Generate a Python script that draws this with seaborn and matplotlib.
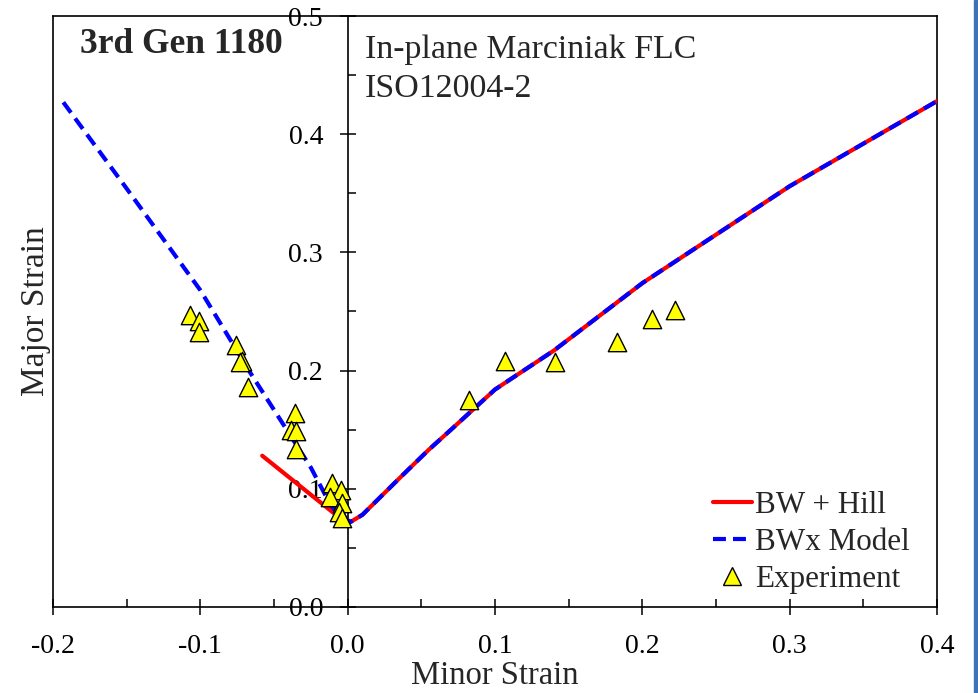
import numpy as np
import pandas as pd
import matplotlib
matplotlib.use("Agg")
import matplotlib.pyplot as plt
import seaborn as sns
from matplotlib.lines import Line2D
from matplotlib.patches import Rectangle

# BW + Hill, left branch (plane-strain side)
bw_hill_left_x = [-0.058, -0.030, -0.009, 0.002]
bw_hill_left_y = [0.128, 0.100, 0.079, 0.072]

# right branch, shared by both models
right_x = [0.002, 0.010, 0.036, 0.055, 0.071, 0.100, 0.140, 0.200, 0.300, 0.400]
right_y = [0.072, 0.078, 0.110, 0.133, 0.151, 0.184, 0.217, 0.274, 0.356, 0.428]

# BWx model, left branch
bwx_left_x = [-0.193, -0.150, -0.100, -0.066, -0.025, -0.0115, -0.004, 0.002]
bwx_left_y = [0.427, 0.354, 0.268, 0.198, 0.118, 0.086, 0.076, 0.072]

# experiment
exp_minor = [-0.107, -0.101, -0.101, -0.076, -0.0715, -0.073, -0.0676,
             -0.0358, -0.0387, -0.0348, -0.0348,
             -0.0109, -0.0043, -0.0122, -0.0036, -0.0059, -0.0036,
             0.0824, 0.1066, 0.1405, 0.1826, 0.2064, 0.222]
exp_major = [0.247, 0.242, 0.233, 0.222, 0.208, 0.207, 0.186,
             0.164, 0.150, 0.149, 0.134,
             0.1046, 0.099, 0.093, 0.0877, 0.080, 0.0756,
             0.175, 0.2084, 0.2076, 0.2239, 0.244, 0.2513]

sns.set_theme(style="white")
plt.rcParams['font.family'] = ['Liberation Serif', 'DejaVu Serif']

bw_hill = pd.DataFrame({'x': bw_hill_left_x + right_x, 'y': bw_hill_left_y + right_y})
bwx = pd.DataFrame({'x': bwx_left_x + right_x[1:], 'y': bwx_left_y + right_y[1:]})
exp = pd.DataFrame({'x': exp_minor, 'y': exp_major})

fig = plt.figure(figsize=(9.79, 6.93), dpi=100)
ax = fig.add_axes([53 / 979, 1 - 607 / 693, 884 / 979, 591 / 693])

sns.lineplot(data=bw_hill, x='x', y='y', sort=False, color='red', linewidth=3,
             ax=ax, zorder=3)
sns.lineplot(data=bwx, x='x', y='y', sort=False, color='blue', linewidth=3,
             dashes=False, ax=ax, zorder=4)
ax.lines[-1].set_dashes((3.1, 1.7))
sns.scatterplot(data=exp, x='x', y='y', marker='^', s=175, color='yellow',
                edgecolor='black', linewidth=1, ax=ax, zorder=5)

ax.set_xlim(-0.2, 0.4)
ax.set_ylim(0.0, 0.5)
ax.set_xticks(np.arange(-0.2, 0.41, 0.1))
ax.set_xticks(np.arange(-0.15, 0.4, 0.1), minor=True)
ax.set_yticks(np.arange(0.0, 0.51, 0.1))
ax.set_yticks(np.arange(0.05, 0.5, 0.1), minor=True)
ax.xaxis.set_major_formatter(matplotlib.ticker.FormatStrFormatter('%.1f'))
ax.yaxis.set_major_formatter(matplotlib.ticker.FormatStrFormatter('%.1f'))

ax.spines['left'].set_position(('data', 0))
for s in ax.spines.values():
    s.set_color('black')
    s.set_linewidth(1.2)
ax.axvline(-0.2, color='black', linewidth=1.2, clip_on=False, zorder=6)

ax.tick_params(which='major', direction='inout', length=11.5, width=1.1,
               labelsize=20, colors='black')
ax.tick_params(axis='x', which='major', pad=14)
ax.tick_params(axis='y', which='major', pad=12)
ax.tick_params(which='minor', direction='in', length=5.5, width=1.1, colors='black')
ax.tick_params(axis='both', which='both', bottom=True, left=True)

ax.set_xlabel('Minor Strain', fontsize=23.5)
ax.set_ylabel('Major Strain', fontsize=24)
ax.xaxis.label.set_va('baseline')
ax.xaxis.set_label_coords(0.5, -0.1303)
ax.yaxis.set_label_coords(-0.002, 0.5)

ax.text(0.0305, 0.937, '3rd Gen 1180', transform=ax.transAxes, fontsize=25.5,
        fontweight='bold', va='baseline')
ax.text(0.353, 0.929, 'In-plane Marciniak FLC', transform=ax.transAxes,
        fontsize=24.4, va='baseline')
ax.text(0.353, 0.863, 'ISO12004-2', transform=ax.transAxes,
        fontsize=24.4, va='baseline')

handles = [
    Line2D([0], [0], color='red', lw=3, label='BW + Hill'),
    Line2D([0], [0], color='blue', lw=3, dashes=(3.1, 1.7), label='BWx Model'),
    Line2D([0], [0], marker='^', color='none', markerfacecolor='yellow',
           markeredgecolor='black', markersize=13, label='Experiment'),
]
ax.legend(handles=handles, loc='lower right', fontsize=22.4, frameon=False,
          handlelength=1.25, handletextpad=0.1, labelspacing=0.26,
          borderaxespad=0.3, bbox_to_anchor=(0.9935, -0.015))

fig.patches.append(Rectangle((974 / 979, 0), 5 / 979, 1, transform=fig.transFigure,
                             color='#3f72b5', zorder=0))

fig.savefig('out.png', dpi=100)
